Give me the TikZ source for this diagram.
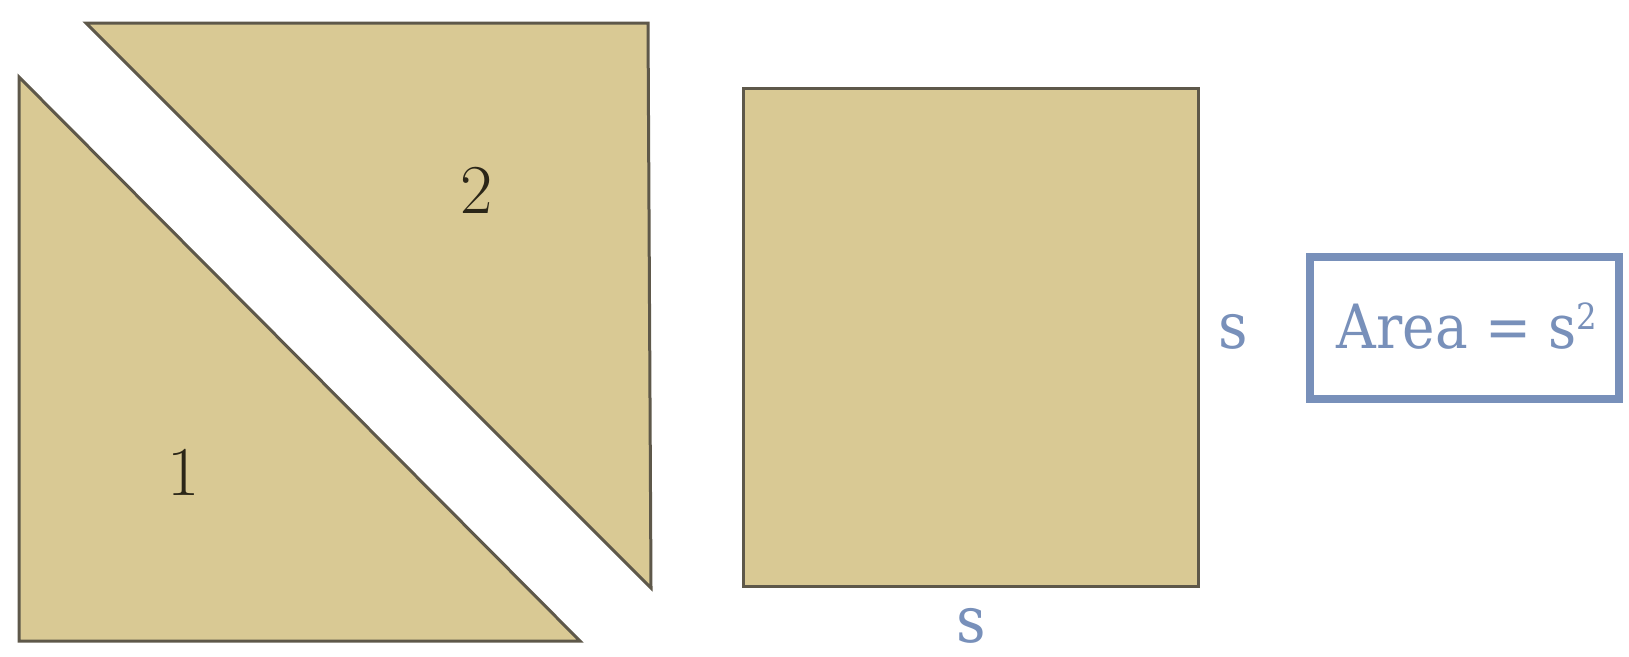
\documentclass[tikz,border=0pt]{standalone}
\usepackage{fontspec}
\newfontfamily\labelfont{DejaVu Serif Condensed}
\definecolor{beige}{HTML}{D9C994}
\definecolor{edgegray}{HTML}{5E584A}
\definecolor{bluegray}{HTML}{7890BA}
\definecolor{digitink}{HTML}{2B2618}
\begin{document}
\begin{tikzpicture}[x=1pt,y=-1pt]
\tikzset{
  piece/.style={fill=beige,draw=edgegray,line width=3pt,line join=miter},
  digit/.style={text=digitink,font=\fontsize{70}{82}\selectfont,inner sep=0pt,anchor=base},
  sidelabel/.style={text=bluegray,font=\labelfont\fontsize{64}{76}\selectfont,inner sep=0pt,anchor=base},
  arealabel/.style={text=bluegray,font=\labelfont\fontsize{61}{72}\selectfont,inner sep=0pt,anchor=base},
  areabox/.style={draw=bluegray,line width=8pt,minimum width=309pt,minimum height=142pt,inner sep=0pt}
}
\useasboundingbox (0,0) rectangle (1629,656);
\fill[white] (0,0) rectangle (1629,656);
% triangle 1
\coordinate (t1a) at (19,77);
\coordinate (t1b) at (19,641);
\coordinate (t1c) at (580,641);
\draw[piece] (t1a) -- (t1b) -- (t1c) -- cycle;
% triangle 2
\coordinate (t2a) at (86,23);
\coordinate (t2b) at (648,23);
\coordinate (t2c) at (651,588);
\draw[piece] (t2a) -- (t2b) -- (t2c) -- cycle;
% square
\coordinate (sqa) at (743,88);
\coordinate (sqb) at (1198,586);
\draw[piece] (sqa) rectangle (sqb);
% digits
\node[digit] (one) at (184,495) {1};
\node[digit] (two) at (477,213) {2};
% side labels
\node[sidelabel] (sright) at (1233,348) {s};
\node[sidelabel] (sbottom) at (971,642) {s};
% area box
\node[areabox] (box) at (1464.5,328) {};
\node[arealabel] (area) at (1467,348)
  {Area = s\raisebox{19pt}{\fontsize{36}{42}\selectfont 2}};
\end{tikzpicture}
\end{document}
